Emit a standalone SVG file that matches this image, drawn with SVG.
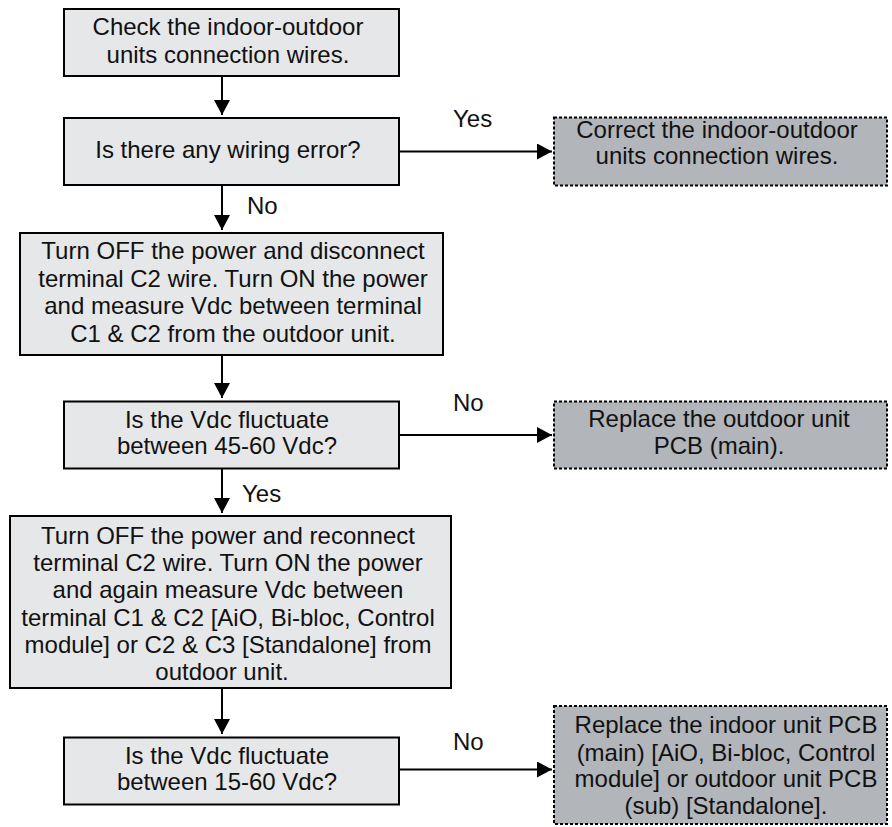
<svg xmlns="http://www.w3.org/2000/svg" width="892" height="827" viewBox="0 0 892 827">
<defs>
<style>
.box{fill:#e6e7e9;stroke:#000;stroke-width:2}
.end{fill:#b2b5ba;stroke:#000;stroke-width:2;stroke-dasharray:3 2}
text{font-family:"Liberation Sans",Arial,sans-serif;font-size:24px;fill:#111}
.c{text-anchor:middle}
.ln{stroke:#000;stroke-width:2;fill:none}
</style>
<marker id="ah" viewBox="0 0 15 16" refX="15" refY="8" markerWidth="15" markerHeight="16" markerUnits="userSpaceOnUse" orient="auto">
<path d="M0,0 L15,8 L0,16 Z" fill="#000"/>
</marker>
</defs>
<rect width="892" height="827" fill="#fff"/>
<g id="connectors">
<line class="ln" x1="222" y1="77" x2="222" y2="115" marker-end="url(#ah)"/>
<line class="ln" x1="222" y1="186" x2="222" y2="230" marker-end="url(#ah)"/>
<line class="ln" x1="222" y1="356" x2="222" y2="398" marker-end="url(#ah)"/>
<line class="ln" x1="222" y1="469" x2="222" y2="513" marker-end="url(#ah)"/>
<line class="ln" x1="222" y1="689" x2="222" y2="734" marker-end="url(#ah)"/>
<line class="ln" x1="400" y1="151.5" x2="552" y2="151.5" marker-end="url(#ah)"/>
<line class="ln" x1="400" y1="435" x2="552" y2="435" marker-end="url(#ah)"/>
<line class="ln" x1="400" y1="769.5" x2="552" y2="769.5" marker-end="url(#ah)"/>
<text x="453" y="127">Yes</text>
<text x="247" y="214">No</text>
<text x="453" y="411">No</text>
<text x="242" y="502">Yes</text>
<text x="453" y="750">No</text>
</g>
<g id="n1">
<rect class="box" x="64" y="9" width="335" height="67"/>
<text class="c" x="228" y="35">Check the indoor-outdoor</text>
<text class="c" x="228" y="63">units connection wires.</text>
</g>
<g id="n2">
<rect class="box" x="64" y="118" width="335" height="67"/>
<text class="c" x="228" y="158">Is there any wiring error?</text>
</g>
<g id="n3">
<rect class="box" x="20" y="233" width="423" height="122"/>
<text class="c" x="233" y="259">Turn OFF the power and disconnect</text>
<text class="c" x="233" y="286.5">terminal C2 wire. Turn ON the power</text>
<text class="c" x="233" y="314">and measure Vdc between terminal</text>
<text class="c" x="233" y="341.5">C1 &amp; C2 from the outdoor unit.</text>
</g>
<g id="n4">
<rect class="box" x="64" y="401.5" width="335" height="67"/>
<text class="c" x="227" y="427.5">Is the Vdc fluctuate</text>
<text class="c" x="227" y="454">between 45-60 Vdc?</text>
</g>
<g id="n5">
<rect class="box" x="10" y="516" width="441" height="172"/>
<text class="c" x="228" y="544">Turn OFF the power and reconnect</text>
<text class="c" x="228" y="571">terminal C2 wire. Turn ON the power</text>
<text class="c" x="228" y="598">and again measure Vdc between</text>
<text class="c" x="228" y="625.5">terminal C1 &amp; C2 [AiO, Bi-bloc, Control</text>
<text class="c" x="228" y="653">module] or C2 &amp; C3 [Standalone] from</text>
<text class="c" x="222" y="679.5">outdoor unit.</text>
</g>
<g id="n6">
<rect class="box" x="64" y="737.5" width="335" height="67"/>
<text class="c" x="227" y="763.5">Is the Vdc fluctuate</text>
<text class="c" x="227" y="790">between 15-60 Vdc?</text>
</g>
<g id="r1">
<rect class="end" x="554" y="117.5" width="333" height="68"/>
<text class="c" x="717" y="137.5">Correct the indoor-outdoor</text>
<text class="c" x="717" y="163.5">units connection wires.</text>
</g>
<g id="r2">
<rect class="end" x="554" y="401.5" width="333" height="67"/>
<text class="c" x="719" y="427">Replace the outdoor unit</text>
<text class="c" x="719" y="454">PCB (main).</text>
</g>
<g id="r3">
<rect class="end" x="554" y="706" width="333" height="118"/>
<text class="c" x="726" y="733">Replace the indoor unit PCB</text>
<text class="c" x="726" y="760.5">(main) [AiO, Bi-bloc, Control</text>
<text class="c" x="726" y="787">module] or outdoor unit PCB</text>
<text class="c" x="726" y="814">(sub) [Standalone].</text>
</g>
</svg>
